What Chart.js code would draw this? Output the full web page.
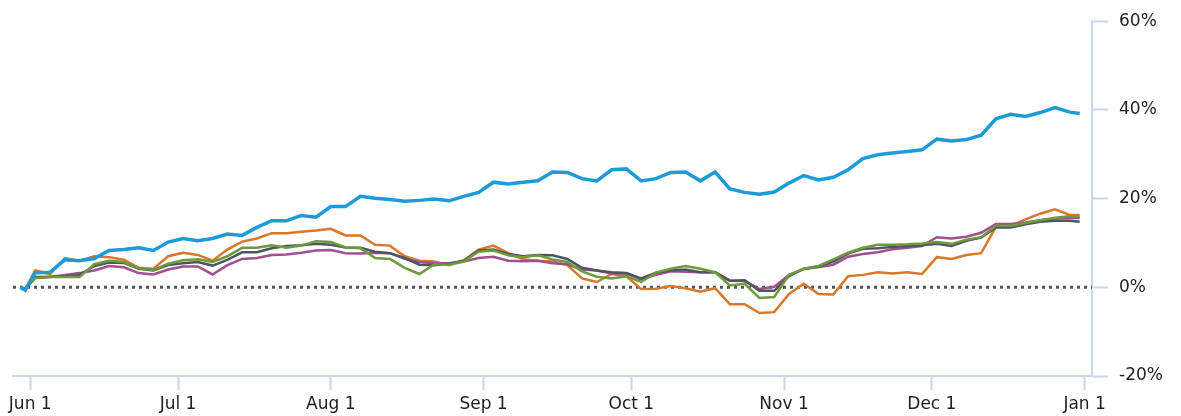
<!DOCTYPE html>
<html>
<head>
<meta charset="utf-8">
<script src="https://cdn.jsdelivr.net/npm/chart.js@4/dist/chart.umd.min.js"></script>
<style>
    html, body { margin: 0; padding: 0; background: #fff; }
    #wrap { width: 1181px; height: 416px; }
</style>
</head>
<body>
<div id="wrap"><canvas id="returns-chart"></canvas></div>
<script>
'use strict';

// sample dates and cumulative returns in %
const dates = [
    '2023-05-30', '2023-05-31', '2023-06-02', '2023-06-05', '2023-06-08', '2023-06-11',
    '2023-06-14', '2023-06-17', '2023-06-20', '2023-06-23', '2023-06-26', '2023-06-29',
    '2023-07-02', '2023-07-05', '2023-07-08', '2023-07-11', '2023-07-14', '2023-07-17',
    '2023-07-20', '2023-07-23', '2023-07-26', '2023-07-29', '2023-08-01', '2023-08-04',
    '2023-08-07', '2023-08-10', '2023-08-13', '2023-08-16', '2023-08-19', '2023-08-22',
    '2023-08-25', '2023-08-28', '2023-08-31', '2023-09-03', '2023-09-06', '2023-09-09',
    '2023-09-12', '2023-09-15', '2023-09-18', '2023-09-21', '2023-09-24', '2023-09-27',
    '2023-09-30', '2023-10-03', '2023-10-06', '2023-10-09', '2023-10-12', '2023-10-15',
    '2023-10-18', '2023-10-21', '2023-10-24', '2023-10-27', '2023-10-30', '2023-11-02',
    '2023-11-05', '2023-11-08', '2023-11-11', '2023-11-14', '2023-11-17', '2023-11-20',
    '2023-11-23', '2023-11-26', '2023-11-29', '2023-12-02', '2023-12-05', '2023-12-08',
    '2023-12-11', '2023-12-14', '2023-12-17', '2023-12-20', '2023-12-23', '2023-12-26',
    '2023-12-29', '2023-12-31'
];

const blueSeries = [0, -0.7, 3.3, 3.4, 6.2, 6, 6.5, 8.3, 8.5, 8.9, 8.3, 10.2, 11, 10.5, 11, 12,
    11.7, 13.5, 15, 15, 16.2, 15.8, 18.2, 18.2, 20.5, 20.1, 19.8, 19.4, 19.6, 19.9, 19.5, 20.5,
    21.4, 23.7, 23.3, 23.7, 24, 26, 25.9, 24.5, 24, 26.5, 26.7, 24, 24.5, 25.9, 26, 24, 26, 22.2,
    21.4, 21, 21.5, 23.5, 25.2, 24.2, 24.8, 26.5, 29, 29.9, 30.3, 30.6, 31, 33.4, 33, 33.3, 34.3,
    38, 39, 38.5, 39.4, 40.5, 39.5, 39.2];
const orangeSeries = [0, -0.3, 3.8, 3, 6.6, 6, 7, 6.8, 6.2, 4.4, 4.2, 7, 7.8, 7.3, 6, 8.5,
    10.3, 11, 12.2, 12.2, 12.5, 12.8, 13.2, 11.7, 11.7, 9.6, 9.4, 7, 6, 5.8, 5, 6.1, 8.5, 9.4,
    7.7, 6.3, 6, 5.8, 5, 2, 1.2, 3, 2.5, -0.4, -0.3, 0.3, -0.2, -1, -0.2, -3.8, -3.8, -5.8,
    -5.6, -1.5, 0.8, -1.5, -1.6, 2.5, 2.8, 3.4, 3.1, 3.4, 3, 6.8, 6.4, 7.3, 7.7, 13.6, 13.9,
    15.3, 16.6, 17.6, 16.3, 16.3];
const greenSeries = [0, -0.3, 2.1, 2.3, 2.3, 2.3, 5.2, 6, 5.7, 4.3, 3.9, 5.3, 6.1, 6.3, 5.7, 7,
    8.9, 8.9, 9.5, 8.9, 9.4, 10.4, 10.2, 9, 8.8, 6.6, 6.4, 4.4, 3, 5.2, 5.1, 5.8, 8, 8.3, 7.2,
    6.8, 7.2, 6.3, 5.7, 3.6, 2.4, 2, 2.5, 1.2, 3.3, 4.2, 4.8, 4.2, 3.4, 0.4, 0.8, -2.4, -2.2,
    2.8, 4.2, 4.8, 6.3, 7.8, 8.9, 9.6, 9.6, 9.7, 9.9, 10.2, 9.8, 10.7, 11.3, 13.9, 13.9, 14.5,
    15.1, 15.7, 16, 15.9];
const graySeries = [0, -0.5, 2.3, 2.4, 2.5, 2.8, 4.8, 5.6, 5.5, 4.2, 3.8, 5, 5.4, 5.7, 4.9,
    6.2, 7.9, 7.9, 8.8, 9.3, 9.5, 9.8, 9.6, 9, 8.9, 8, 7.7, 6.6, 5.1, 5, 5.3, 6, 8.3, 8.5, 7.5,
    7, 7.3, 7.2, 6.4, 4.4, 3.8, 3.4, 3.2, 2, 3.3, 3.8, 4, 3.4, 3.4, 1.5, 1.6, -0.8, -0.8, 2.5,
    4.2, 4.7, 5.8, 7.6, 8.7, 8.8, 9.1, 9.3, 9.5, 9.8, 9.3, 10.5, 11.2, 13.5, 13.5, 14.2, 14.8,
    15, 15, 14.8];
const purpleSeries = [0, -0.3, 2.1, 2.3, 2.8, 3.2, 3.8, 4.8, 4.5, 3.2, 2.9, 4, 4.7, 4.7, 2.9,
    5, 6.4, 6.6, 7.3, 7.4, 7.8, 8.3, 8.4, 7.7, 7.6, 7.8, 7.7, 6.4, 5.7, 5.4, 5.4, 5.8, 6.6, 6.9,
    6, 5.9, 6, 5.4, 5.2, 4, 3.8, 3.1, 3.1, 1.8, 2.8, 3.6, 3.5, 3.4, 3.4, 1.5, 1.4, -0.4, 0.1,
    2.8, 4.1, 4.6, 5.1, 6.9, 7.5, 7.9, 8.6, 8.9, 9.3, 11.3, 11, 11.4, 12.3, 14.3, 14.3, 14.6,
    15.1, 15.5, 15.6, 15.6];

const tickDates = ['2023-06-01', '2023-07-01', '2023-08-01', '2023-09-01',
    '2023-10-01', '2023-11-01', '2023-12-01', '2024-01-01'];
const tickLabels = ['Jun 1', 'Jul 1', 'Aug 1', 'Sep 1', 'Oct 1', 'Nov 1', 'Dec 1', 'Jan 1'];
const yTicks = [-20, 0, 20, 40, 60];

const baseDay = Date.parse('2023-06-01');
const dayOf = function (s) {
    return (Date.parse(s) - baseDay) / 86400000;
};
const toPoints = function (values) {
    return values.map(function (v, i) { return { x: dayOf(dates[i]), y: v }; });
};

const axisColor = '#c9d6ee';
const textColor = '#1e1e1e';
const font = { family: 'DejaVu Sans', size: 17 };

// dotted zero line across the plot
const zeroLine = {
    id: 'zeroLine',
    beforeDatasetsDraw: function (chart) {
        const ctx = chart.ctx;
        const y = chart.scales.y.getPixelForValue(0);
        ctx.save();
        ctx.strokeStyle = '#555';
        ctx.lineWidth = 3;
        ctx.setLineDash([3, 4]);
        ctx.beginPath();
        ctx.moveTo(chart.chartArea.left, y);
        ctx.lineTo(chart.chartArea.right, y);
        ctx.stroke();
        ctx.restore();
    },
};

const lineSet = function (values, color, width) {
    return {
        data: toPoints(values),
        borderColor: color,
        borderWidth: width,
        pointRadius: 0,
        tension: 0,
        fill: false,
    };
};

new Chart(document.getElementById('returns-chart'), {
    type: 'line',
    data: {
        datasets: [
            lineSet(blueSeries, '#1b9bd7', 3.5),
            lineSet(greenSeries, '#6f9a3c', 2.5),
            lineSet(graySeries, '#4b5663', 2.5),
            lineSet(purpleSeries, '#a24f8f', 2.5),
            lineSet(orangeSeries, '#d9772b', 2.5),
        ],
    },
    options: {
        responsive: true,
        maintainAspectRatio: false,
        animation: false,
        layout: { padding: { top: 20, left: 13, right: 0, bottom: 0 } },
        plugins: { legend: { display: false }, tooltip: { enabled: false } },
        scales: {
            x: {
                type: 'linear',
                min: -3.5,
                max: 215.5,
                afterBuildTicks: function (scale) {
                    scale.ticks = tickDates.map(function (d) { return { value: dayOf(d) }; });
                },
                afterFit: function (scale) { scale.height = 40; },
                ticks: {
                    autoSkip: false,
                    maxRotation: 0,
                    color: textColor,
                    font: font,
                    padding: 4,
                    callback: function (value) {
                        const i = tickDates.findIndex(function (d) { return dayOf(d) === value; });
                        return i >= 0 ? tickLabels[i] : '';
                    },
                },
                grid: {
                    drawOnChartArea: false,
                    drawTicks: true,
                    tickLength: 14,
                    tickColor: axisColor,
                    tickWidth: 2,
                },
                border: { color: axisColor, width: 2 },
            },
            y: {
                position: 'right',
                min: -20,
                max: 60,
                afterBuildTicks: function (scale) {
                    scale.ticks = yTicks.map(function (v) { return { value: v }; });
                },
                afterFit: function (scale) { scale.width = 89; },
                ticks: {
                    color: textColor,
                    font: font,
                    padding: 11,
                    callback: function (value) { return value + '%'; },
                },
                grid: {
                    drawOnChartArea: false,
                    drawTicks: true,
                    tickLength: 16,
                    tickColor: axisColor,
                    tickWidth: 2,
                },
                border: { color: axisColor, width: 2 },
            },
        },
    },
    plugins: [zeroLine],
});
</script>
</body>
</html>
